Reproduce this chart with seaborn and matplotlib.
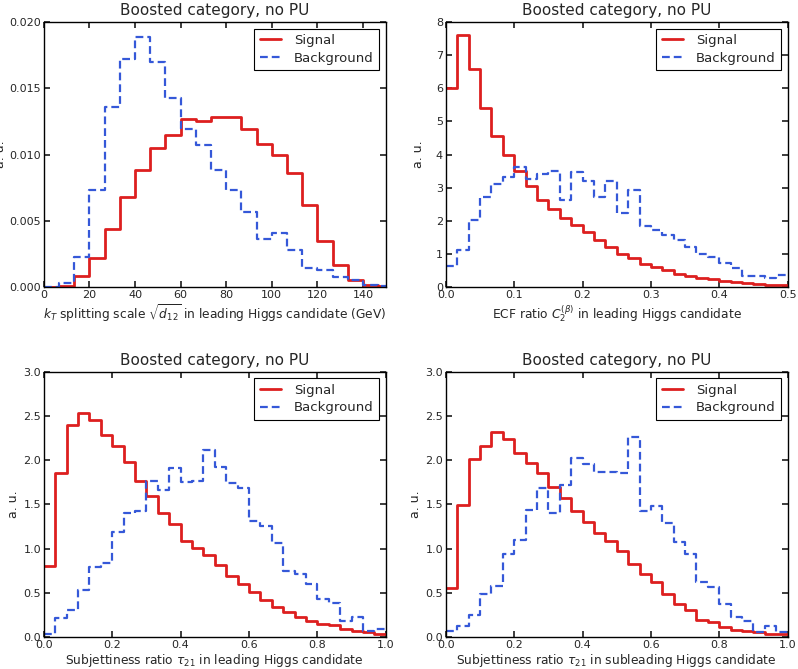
import numpy as np
import pandas as pd
import matplotlib
matplotlib.use("Agg")
import matplotlib.pyplot as plt
import seaborn as sns

# ---------------- data ----------------
# Panel 1: kT splitting scale (bins of 20/3 GeV starting at 0)
kt_edges = np.arange(0, 23 + 1) * (20.0 / 3.0)
kt_signal = [0.0, 0.0001, 0.0008, 0.0022, 0.0044, 0.0068, 0.0088, 0.0105, 0.0115,
             0.0127, 0.0125, 0.0128, 0.01285, 0.0119, 0.0108, 0.0100, 0.0086,
             0.0062, 0.0035, 0.0017, 0.00056, 0.00015, 0.00005]
kt_background = [0.0, 0.0003, 0.0023, 0.0073, 0.0136, 0.0172, 0.0189, 0.0170, 0.0143,
                 0.0119, 0.0107, 0.0088, 0.0073, 0.0057, 0.0036, 0.0041, 0.0028,
                 0.00145, 0.00126, 0.00078, 0.0005, 0.00015, 0.00005]

# Panel 2: ECF ratio (30 bins over 0..0.5)
ecf_edges = np.linspace(0, 0.5, 31)
ecf_signal = [6.0, 7.6, 6.58, 5.42, 4.56, 3.99, 3.49, 3.06, 2.64, 2.37, 2.10, 1.87,
              1.67, 1.41, 1.21, 0.99, 0.87, 0.71, 0.60, 0.53, 0.40, 0.33, 0.28,
              0.24, 0.18, 0.14, 0.11, 0.08, 0.06, 0.06]
ecf_background = [0.65, 1.12, 2.02, 2.71, 3.11, 3.31, 3.61, 3.25, 3.42, 3.49, 2.64,
                  3.47, 3.19, 2.73, 3.19, 2.25, 2.92, 1.85, 1.73, 1.56, 1.41, 1.20,
                  1.01, 0.92, 0.72, 0.59, 0.34, 0.34, 0.26, 0.36]

# Panel 3: tau21 leading (30 bins over 0..1)
tau_edges = np.linspace(0, 1, 31)
tau_lead_signal = [0.80, 1.85, 2.40, 2.54, 2.46, 2.28, 2.16, 1.98, 1.77, 1.59, 1.40,
                   1.28, 1.09, 1.01, 0.93, 0.81, 0.69, 0.60, 0.51, 0.42, 0.34, 0.28,
                   0.22, 0.18, 0.15, 0.13, 0.086, 0.067, 0.056, 0.034]
tau_lead_background = [0.034, 0.21, 0.30, 0.53, 0.79, 0.84, 1.19, 1.40, 1.43, 1.77,
                       1.66, 1.91, 1.75, 1.77, 2.12, 1.92, 1.74, 1.68, 1.31, 1.25,
                       1.06, 0.75, 0.71, 0.60, 0.43, 0.38, 0.18, 0.23, 0.07, 0.09]

# Panel 4: tau21 subleading (30 bins over 0..1)
tau_sub_signal = [0.55, 1.49, 2.01, 2.16, 2.32, 2.24, 2.08, 1.97, 1.85, 1.70, 1.57,
                  1.43, 1.30, 1.18, 1.09, 0.97, 0.83, 0.71, 0.62, 0.49, 0.37, 0.31,
                  0.19, 0.17, 0.11, 0.08, 0.067, 0.05, 0.03, 0.03]
tau_sub_background = [0.07, 0.12, 0.25, 0.49, 0.58, 0.94, 1.10, 1.44, 1.69, 1.40, 1.72,
                      2.02, 1.96, 1.87, 1.87, 1.85, 2.26, 1.42, 1.48, 1.29, 1.07, 0.94,
                      0.62, 0.57, 0.37, 0.22, 0.18, 0.06, 0.12, 0.05]

titles = ["Boosted category, no PU"] * 4
xlabels = [r"$k_T$ splitting scale $\sqrt{d_{12}}$ in leading Higgs candidate (GeV)",
           r"ECF ratio $C_2^{(\beta)}$ in leading Higgs candidate",
           r"Subjettiness ratio $\tau_{21}$ in leading Higgs candidate",
           r"Subjettiness ratio $\tau_{21}$ in subleading Higgs candidate"]
ylabel = "a. u."
series_names = ["Signal", "Background"]

# ---------------- style ----------------
sns.set_theme(style="ticks")
plt.rcParams.update({
    "font.family": ["DejaVu Sans"],
    "mathtext.fontset": "dejavusans",
    "axes.edgecolor": "black",
    "axes.linewidth": 1.0,
    "xtick.direction": "in",
    "ytick.direction": "in",
    "xtick.top": True,
    "ytick.right": True,
    "xtick.major.size": 4,
    "ytick.major.size": 4,
    "xtick.major.pad": 2,
    "ytick.major.pad": 2,
    "xtick.labelsize": 8,
    "ytick.labelsize": 8,
})

RED = "#dd1f1f"
BLUE = "#3558d8"

fig, axes = plt.subplots(2, 2, figsize=(7.98, 6.69), dpi=100)
fig.subplots_adjust(left=0.055, right=0.987, bottom=0.048, top=0.967,
                    wspace=0.176, hspace=0.32)

panels = [
    (kt_edges, kt_signal, kt_background, (0, 150), (0, 0.020),
     np.arange(0, 150.1, 20), np.arange(0, 0.0201, 0.005), "{:.3f}", "{:.0f}"),
    (ecf_edges, ecf_signal, ecf_background, (0, 0.5), (0, 8),
     np.arange(0, 0.51, 0.1), np.arange(0, 8.1, 1), "{:.0f}", "{:.1f}"),
    (tau_edges, tau_lead_signal, tau_lead_background, (0, 1), (0, 3),
     np.arange(0, 1.01, 0.2), np.arange(0, 3.01, 0.5), "{:.1f}", "{:.1f}"),
    (tau_edges, tau_sub_signal, tau_sub_background, (0, 1), (0, 3),
     np.arange(0, 1.01, 0.2), np.arange(0, 3.01, 0.5), "{:.1f}", "{:.1f}"),
]
ylabel_x = [-0.108, -0.06, -0.07, -0.07]

for i, (ax, (edges, sig, bkg, xl, yl, xt, yt, yfmt, xfmt), title, xlab) in enumerate(zip(
        axes.flat, panels, titles, xlabels)):
    edges = np.asarray(edges)
    centers = 0.5 * (edges[:-1] + edges[1:])
    df_s = pd.DataFrame({"x": centers, "w": np.asarray(sig, dtype=float)})
    df_b = pd.DataFrame({"x": centers, "w": np.asarray(bkg, dtype=float)})
    sns.histplot(data=df_s, x="x", weights="w", bins=list(edges), element="step",
                 fill=False, color=RED, linewidth=2.0, label=series_names[0], ax=ax)
    sns.histplot(data=df_b, x="x", weights="w", bins=list(edges), element="step",
                 fill=False, color=BLUE, linewidth=1.6, linestyle=(0, (3.5, 1.8)),
                 label=series_names[1], ax=ax)
    ax.set_xlim(*xl)
    ax.set_ylim(*yl)
    ax.set_xticks(xt)
    ax.set_xticklabels([xfmt.format(v) for v in xt])
    ax.set_yticks(yt)
    ax.set_yticklabels([yfmt.format(v) for v in yt])
    ax.set_title(title, fontsize=11, pad=5)
    ax.set_xlabel(xlab, fontsize=8.8, labelpad=2)
    ax.set_ylabel(ylabel, fontsize=9)
    ax.yaxis.set_label_coords(ylabel_x[i], 0.5)
    for s in ax.spines.values():
        s.set_visible(True)
        s.set_color("black")
    leg = ax.legend(loc="upper right", fontsize=9.5, fancybox=False,
                    framealpha=1, edgecolor="black", handlelength=1.6,
                    handletextpad=1.0, borderpad=0.4, labelspacing=0.35)
    leg.get_frame().set_linewidth(0.8)

fig.savefig("out.png", dpi=100)
